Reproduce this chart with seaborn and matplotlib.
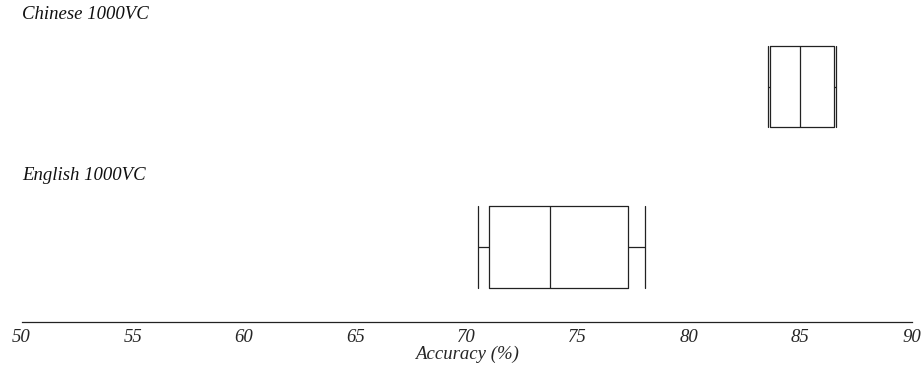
import numpy as np
import pandas as pd
import matplotlib
matplotlib.use("Agg")
import matplotlib.pyplot as plt
import seaborn as sns

# ---- data ----
categories = ["Chinese 1000VC", "English 1000VC"]
chinese_acc = [83.55, 83.64, 85.0, 86.52, 86.61]   # min, q1, median, q3, max
english_acc = [70.53, 71.02, 73.75, 77.27, 78.04]
xticks = [50, 55, 60, 65, 70, 75, 80, 85, 90]
xlabel = "Accuracy (%)"

df = pd.DataFrame({
    "corpus": [categories[0]] * len(chinese_acc) + [categories[1]] * len(english_acc),
    "acc": chinese_acc + english_acc,
})

sns.set_style("white")
plt.rcParams["font.family"] = ["Liberation Serif", "DejaVu Serif"]
plt.rcParams["font.style"] = "italic"

FS = 13.5

fig = plt.figure(figsize=(9.24, 3.66), dpi=100)
ax = fig.add_axes([21.5 / 924, 44 / 366, 890 / 924, 322 / 366])

sns.boxplot(data=df, x="acc", y="corpus", order=categories, orient="h",
            whis=np.inf, width=0.51, fill=False, color="#222222",
            linewidth=0.9, capwidths=0.51, ax=ax)

ax.set_xlim(50, 90)
ax.set_ylim(1.467, -0.539)
ax.set_xticks(xticks)
ax.set_xticklabels([str(t) for t in xticks], fontsize=FS, fontstyle="italic")
ax.set_yticks([])
ax.set_ylabel("")
ax.set_xlabel(xlabel, fontsize=FS, fontstyle="italic", labelpad=0)
ax.tick_params(axis="x", direction="inout", length=8, width=0.8, color="#222222", pad=1)

for s in ["top", "left", "right"]:
    ax.spines[s].set_visible(False)
ax.spines["bottom"].set_color("#222222")
ax.spines["bottom"].set_linewidth(0.9)

for i, name in enumerate(categories):
    ax.text(50.02, i - 0.446, name, fontsize=FS, fontstyle="italic",
            ha="left", va="center", color="#111111")

fig.savefig("out.png", dpi=100)
